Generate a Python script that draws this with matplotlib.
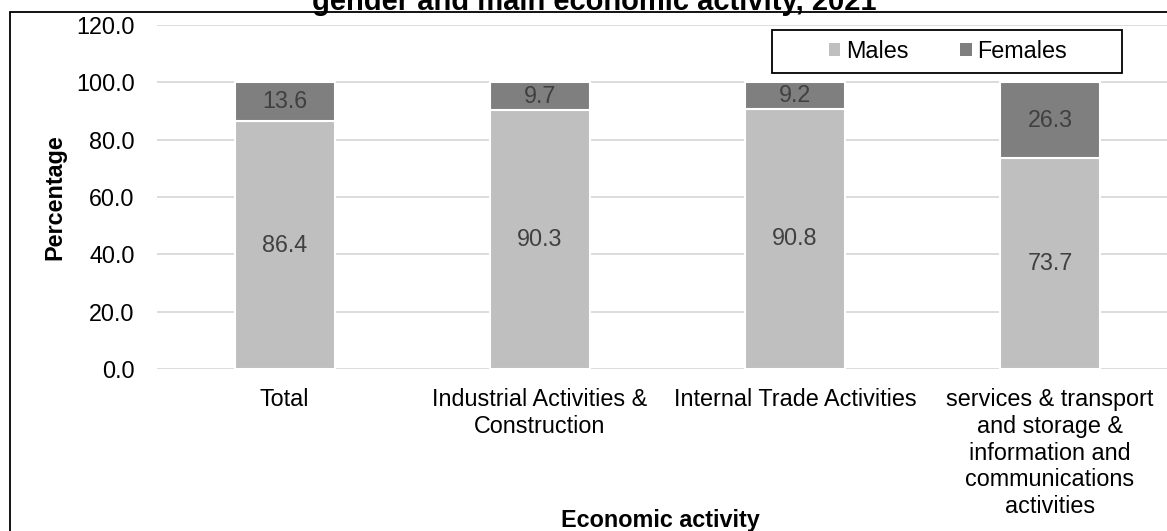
import matplotlib
matplotlib.use("Agg")
import matplotlib.pyplot as plt
from matplotlib.patches import Rectangle, Patch
import numpy as np

plt.rcParams['font.family'] = ['Liberation Sans', 'DejaVu Sans']

categories = ["Total", "Industrial Activities &\nConstruction", "Internal Trade Activities",
              "services & transport\nand storage &\ninformation and\ncommunications\nactivities"]
males = [86.4, 90.3, 90.8, 73.7]
females = [13.6, 9.7, 9.2, 26.3]
yticks = [0, 20, 40, 60, 80, 100, 120]

W, H = 1167, 531
FS = 16.8
fig = plt.figure(figsize=(W / 100, H / 100), dpi=100)

def fx(px):
    return px / W

def fy(py):
    return 1 - py / H

# chart frame
fig.patches.append(Rectangle((fx(9.5), fy(560)), fx(1200), fy(12) - fy(560),
                             transform=fig.transFigure, fill=False,
                             edgecolor='black', linewidth=1.3, zorder=0))

left, right, top, bottom = 157, 1177.5, 25, 369
ax = fig.add_axes([fx(left), fy(bottom), fx(right - left), fy(top) - fy(bottom)])

x = np.arange(len(categories))
bw = 0.392
c_m, c_f = '#BFBFBF', '#7F7F7F'
ax.bar(x, males, bw, color=c_m, edgecolor='white', linewidth=1.5, zorder=3, label='Males')
ax.bar(x, females, bw, bottom=males, color=c_f, edgecolor='white', linewidth=1.5, zorder=3, label='Females')

for i in range(len(categories)):
    ax.text(x[i], males[i] / 2, f"{males[i]:.1f}", ha='center', va='center',
            fontsize=FS, color='#404040', zorder=4)
    ax.text(x[i], males[i] + females[i] / 2, f"{females[i]:.1f}", ha='center', va='center',
            fontsize=FS, color='#404040', zorder=4)

ax.set_xlim(-0.5, 3.5)
ax.set_ylim(0, 120)
ax.set_yticks(yticks)
ax.set_yticklabels([f"{v:.1f}" for v in yticks], fontsize=FS)
ax.set_xticks(x)
ax.set_xticklabels(categories, fontsize=FS, linespacing=1.2)
ax.tick_params(axis='both', length=0)
ax.tick_params(axis='y', pad=16)
ax.tick_params(axis='x', pad=14)
ax.grid(axis='y', color='#D9D9D9', linewidth=1.3, zorder=0)
ax.set_axisbelow(True)
for s in ax.spines.values():
    s.set_visible(False)

fig.text(fx(55), (fy(top) + fy(bottom)) / 2, "Percentage", rotation=90, ha='center', va='center',
         fontsize=FS, fontweight='bold')
fig.text(fx(660), fy(521), "Economic activity", ha='center', va='center',
         fontsize=FS, fontweight='bold')
fig.text(fx(594), fy(10), "gender and main economic activity, 2021", ha='center', va='baseline',
         fontsize=21, fontweight='bold')

# legend
fig.patches.append(Rectangle((fx(772), fy(73)), fx(1122 - 772), fy(30) - fy(73),
                             transform=fig.transFigure, facecolor='white',
                             edgecolor='black', linewidth=1.3, zorder=5))
handles = [Patch(facecolor=c_m, label='Males'), Patch(facecolor=c_f, label='Females')]
leg = fig.legend(handles=handles, loc='center', bbox_to_anchor=(fx(948), fy(51.5)), ncol=2,
                 frameon=False, fontsize=FS, handlelength=0.5, handleheight=0.5,
                 handletextpad=0.25, columnspacing=2.2, borderpad=0)
leg.set_zorder(6)

fig.savefig("out.png", dpi=100)
